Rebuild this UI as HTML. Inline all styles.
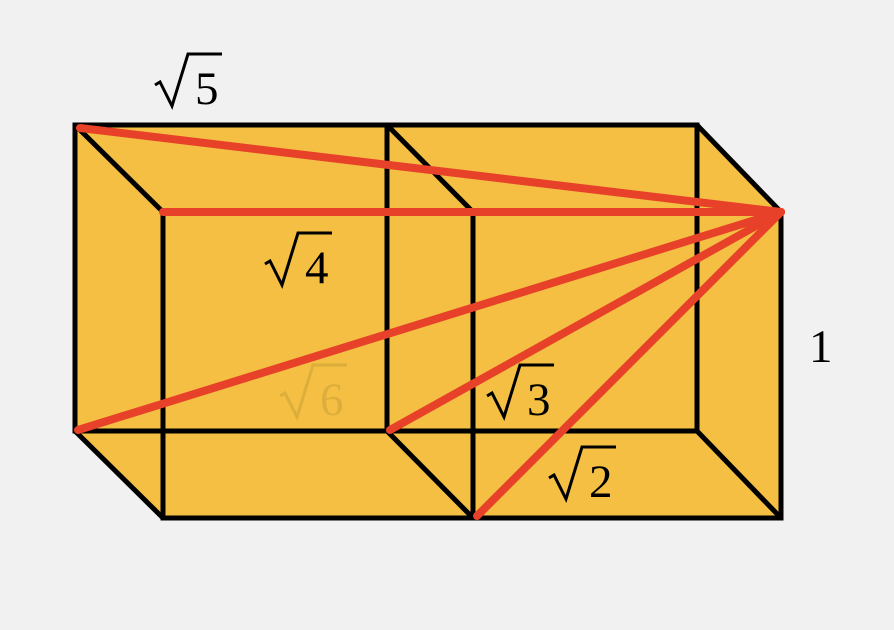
<!DOCTYPE html>
<html><head><style>html,body{margin:0;padding:0;background:#f1f1f1}svg{display:block}</style></head>
<body>
<svg width="894" height="630" viewBox="0 0 894 630" xmlns="http://www.w3.org/2000/svg">
<defs>
<g id="rad"><polyline points="155,85 160,82 172,106 188,54 222,54" fill="none" stroke="currentColor" stroke-width="3"/></g>
</defs>
<rect width="894" height="630" fill="#f1f1f1"/>
<polygon points="75,125 697,125 781,212 781,518 163,518 75,431" fill="#f4bf42"/>
<g stroke="#000" stroke-width="5" fill="none" stroke-linejoin="miter">
<rect x="75" y="125" width="312" height="306"/>
<rect x="387" y="125" width="310" height="306"/>
<rect x="163" y="212" width="310" height="306"/>
<rect x="473" y="212" width="308" height="306"/>
<line x1="75" y1="125" x2="163" y2="212"/>
<line x1="387" y1="125" x2="473" y2="212"/>
<line x1="697" y1="125" x2="781" y2="212"/>
<line x1="75" y1="431" x2="163" y2="518"/>
<line x1="387" y1="431" x2="473" y2="518"/>
<line x1="697" y1="431" x2="781" y2="518"/>
</g>
<g stroke="#e8412a" stroke-width="8" stroke-linecap="round">
<line x1="781" y1="212" x2="80" y2="128"/>
<line x1="781" y1="212" x2="163" y2="212"/>
<line x1="781" y1="212" x2="78" y2="430"/>
<line x1="781" y1="212" x2="390" y2="430"/>
<line x1="781" y1="212" x2="477" y2="516"/>
</g>
<g font-family="Liberation Serif, serif" font-size="47">
<g color="#000"><use href="#rad"/><text x="195" y="104">5</text></g>
<g color="#000" transform="translate(110,179)"><use href="#rad"/><text x="195" y="104">4</text></g>
<g color="#dcae3c" fill="#dcae3c" transform="translate(125,311)"><use href="#rad"/><text x="195" y="104">6</text></g>
<g color="#000" transform="translate(332,311)"><use href="#rad"/><text x="195" y="104">3</text></g>
<g color="#000" transform="translate(394,393)"><use href="#rad"/><text x="195" y="104">2</text></g>
<text x="809" y="362">1</text>
</g>
</svg>
</body></html>
